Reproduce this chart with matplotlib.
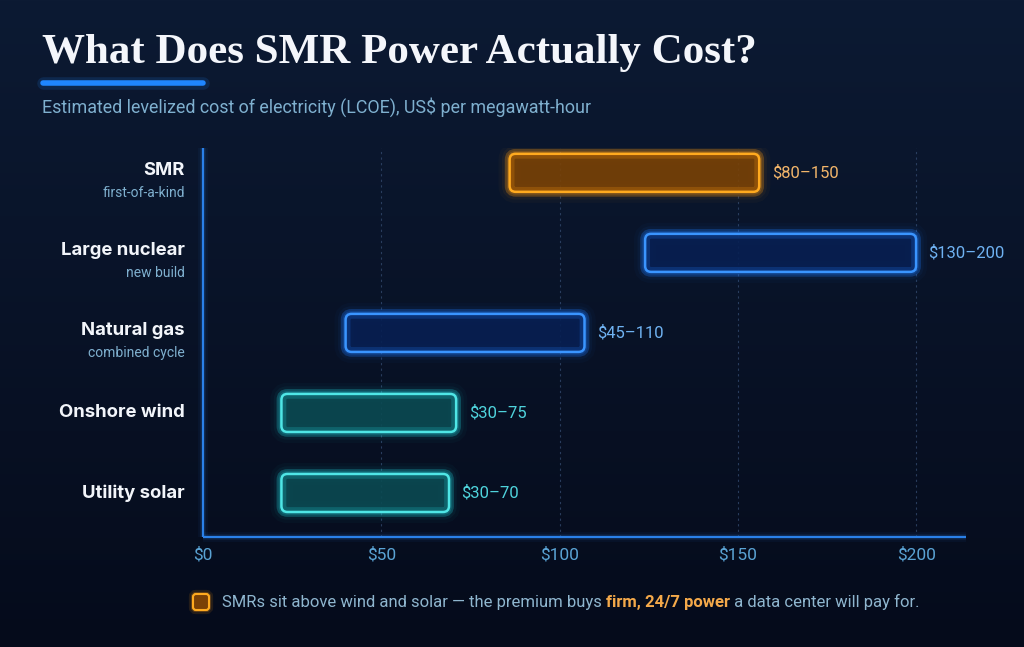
#!/usr/bin/env python3
"""SMR LCOE range chart, dark neon style."""

import matplotlib
import numpy as np

matplotlib.use("Agg")
import matplotlib.pyplot as plt
from matplotlib.colors import LinearSegmentedColormap
from matplotlib.patches import FancyBboxPatch


CATEGORIES = ["SMR", "Large nuclear", "Natural gas", "Onshore wind", "Utility solar"]
SUBLABELS = ["first-of-a-kind", "new build", "combined cycle", "", ""]
# bar extents as drawn in the reference (US$/MWh)
BAR_LOW = [86, 124, 40, 22, 22]
BAR_HIGH = [156, 200, 107, 71, 69]
RANGE_LABELS = ["$80–150", "$130–200", "$45–110", "$30–75", "$30–70"]
BAR_KIND = ["orange", "blue", "blue", "teal", "teal"]
TICKS = [0, 50, 100, 150, 200]
TICK_LABELS = ["$0", "$50", "$100", "$150", "$200"]

TITLE = "What Does SMR Power Actually Cost?"
SUBTITLE = "Estimated levelized cost of electricity (LCOE), US$ per megawatt-hour"
NOTE_PARTS = [
    ("SMRs sit above wind and solar — the premium buys ", "normal"),
    ("firm, 24/7 power", "bold"),
    (" a data center will pay for.", "normal"),
]

STYLES = {
    "orange": {"edge": "#ffaa1f", "face": "#7a4205", "glow": "#ff9a10", "text": "#f2b56a"},
    "blue": {"edge": "#3a95ff", "face": "#071f52", "glow": "#1f7bff", "text": "#6fb2f2"},
    "teal": {"edge": "#4fe6e6", "face": "#0b4a52", "glow": "#20d0d8", "text": "#4fd3dc"},
}

BG_TOP = "#0c1a33"
BG_BOTTOM = "#050b1b"
AXIS_BLUE = "#2a80e8"
MUTED = "#7fb0cf"
SANS = ["Roboto", "DejaVu Sans"]
LABEL_FONT = ["Inter", "Roboto", "DejaVu Sans"]

W_PX, H_PX = 1024, 647
X_MAX = 214
Y_LO, Y_HI = -0.55, 4.31
BAR_H = 0.475


def draw_background(fig):
    bg = fig.add_axes([0, 0, 1, 1], zorder=-10)
    cmap = LinearSegmentedColormap.from_list("bg", [BG_TOP, BG_BOTTOM])
    grad = np.linspace(0, 1, 256).reshape(-1, 1)
    bg.imshow(grad, aspect="auto", cmap=cmap, extent=[0, 1, 0, 1])
    bg.set_axis_off()


def rounded_bar(ax, x0, x1, y, style, aspect, radius):
    kw = dict(
        boxstyle=f"round,pad=0,rounding_size={radius}",
        mutation_aspect=aspect,
        transform=ax.transData,
    )
    xy = (x0, y - BAR_H / 2)
    w = x1 - x0
    # outer glow
    for lw, a in [(16, 0.03), (11, 0.05), (7, 0.09), (4, 0.2)]:
        ax.add_patch(FancyBboxPatch(xy, w, BAR_H, fc="none", ec=style["glow"],
                                    lw=lw, alpha=a, zorder=2, **kw))
    ax.add_patch(FancyBboxPatch(xy, w, BAR_H, fc=style["face"], ec="none",
                                alpha=0.9, zorder=3, **kw))
    # inner glow along the rim
    ax.add_patch(FancyBboxPatch(xy, w, BAR_H, fc="none", ec=style["glow"],
                                lw=7, alpha=0.2, zorder=4, **kw))
    ax.add_patch(FancyBboxPatch(xy, w, BAR_H, fc="none", ec=style["edge"],
                                lw=1.8, zorder=5, **kw))


def main():
    fig = plt.figure(figsize=(W_PX / 100, H_PX / 100), dpi=100)
    draw_background(fig)

    left, right = 203 / W_PX, 966 / W_PX
    bottom, top = 1 - 537 / H_PX, 1 - 148 / H_PX
    ax = fig.add_axes([left, bottom, right - left, top - bottom])
    ax.set_facecolor("none")
    ax.set_xlim(0, X_MAX)
    ax.set_ylim(Y_LO, Y_HI)

    x_per_px = X_MAX / (966 - 203)
    y_per_px = (Y_HI - Y_LO) / (537 - 148)
    aspect = y_per_px / x_per_px
    radius = 6 * x_per_px

    for t in TICKS[1:]:
        ax.plot([t, t], [Y_LO, Y_HI], color="#32486c", lw=0.8,
                ls=(0, (2, 3)), alpha=0.8, zorder=1)

    n = len(CATEGORIES)
    for i, cat in enumerate(CATEGORIES):
        y = n - 1 - i
        style = STYLES[BAR_KIND[i]]
        rounded_bar(ax, BAR_LOW[i], BAR_HIGH[i], y, style, aspect, radius)
        ax.annotate(RANGE_LABELS[i], xy=(BAR_HIGH[i], y), xytext=(9, 0),
                    textcoords="offset points", ha="left", va="center",
                    color=style["text"], fontsize=12, family=SANS, zorder=6)
        main_dy = 2 if SUBLABELS[i] else 0
        ax.annotate(cat, xy=(0, y), xytext=(-13, main_dy), textcoords="offset points",
                    ha="right", va="center", color="#f2f5fa", fontsize=13.3,
                    fontweight="bold", family=LABEL_FONT, annotation_clip=False)
        if SUBLABELS[i]:
            ax.annotate(SUBLABELS[i], xy=(0, y), xytext=(-13, -14.5),
                        textcoords="offset points", ha="right", va="center",
                        color=MUTED, fontsize=10, family=SANS, annotation_clip=False)

    # glowing axis lines
    for lw, a in [(7, 0.06), (4, 0.12), (1.6, 1.0)]:
        ax.plot([0, 0], [Y_LO, Y_HI], color=AXIS_BLUE, lw=lw, alpha=a,
                clip_on=False, solid_capstyle="butt", zorder=6)
        ax.plot([0, X_MAX], [Y_LO, Y_LO], color=AXIS_BLUE, lw=lw, alpha=a,
                clip_on=False, solid_capstyle="butt", zorder=6)
    for spine in ax.spines.values():
        spine.set_visible(False)

    ax.set_xticks(TICKS, TICK_LABELS)
    ax.set_yticks([])
    ax.tick_params(axis="x", length=0, pad=7, labelsize=12.5, labelcolor="#5aa3d4")
    for lbl in ax.get_xticklabels():
        lbl.set_family(SANS)

    # title block
    fig.text(42 / W_PX, 1 - 63 / H_PX, TITLE, ha="left", va="baseline",
             fontsize=31, fontweight="bold", color="#f4f6fb",
             family=["Liberation Serif", "DejaVu Serif"])
    fig.add_artist(plt.Line2D([43 / W_PX, 203 / W_PX], [1 - 83 / H_PX] * 2,
                              color="#1f86ff", lw=4, solid_capstyle="round"))
    fig.add_artist(plt.Line2D([43 / W_PX, 203 / W_PX], [1 - 83 / H_PX] * 2,
                              color="#1f86ff", lw=9, alpha=0.15, solid_capstyle="round"))
    fig.text(42 / W_PX, 1 - 107 / H_PX, SUBTITLE, ha="left", va="center",
             fontsize=12.9, color=MUTED, family=SANS)

    # footer note with small key swatch
    sw = 0.16
    key_kw = dict(boxstyle="round,pad=0,rounding_size=0.03",
                  transform=fig.dpi_scale_trans)
    kx, ky = 1.93, (H_PX - 610) / 100
    for lw, a in [(6, 0.12), (3, 0.25)]:
        fig.add_artist(FancyBboxPatch((kx, ky), sw, sw, fc="none", ec="#ff9a10",
                                      lw=lw, alpha=a, **key_kw))
    fig.add_artist(FancyBboxPatch((kx, ky), sw, sw, fc="#7a4006", ec="#ffaa1f",
                                  lw=1.5, **key_kw))

    last = None
    for text, weight in NOTE_PARTS:
        color = "#f4a94a" if weight == "bold" else "#8fb6cf"
        if last is None:
            last = fig.text(222 / W_PX, 1 - 602 / H_PX, text, ha="left",
                            va="center", fontsize=12, color=color,
                            fontweight=weight, family=SANS)
        else:
            last = ax.annotate(text, xy=(1, 0), xycoords=last, ha="left",
                               va="bottom", fontsize=12, color=color,
                               fontweight=weight, family=SANS,
                               annotation_clip=False)

    fig.savefig("out.png", dpi=100, facecolor=BG_BOTTOM)
    plt.close(fig)


if __name__ == "__main__":
    main()
